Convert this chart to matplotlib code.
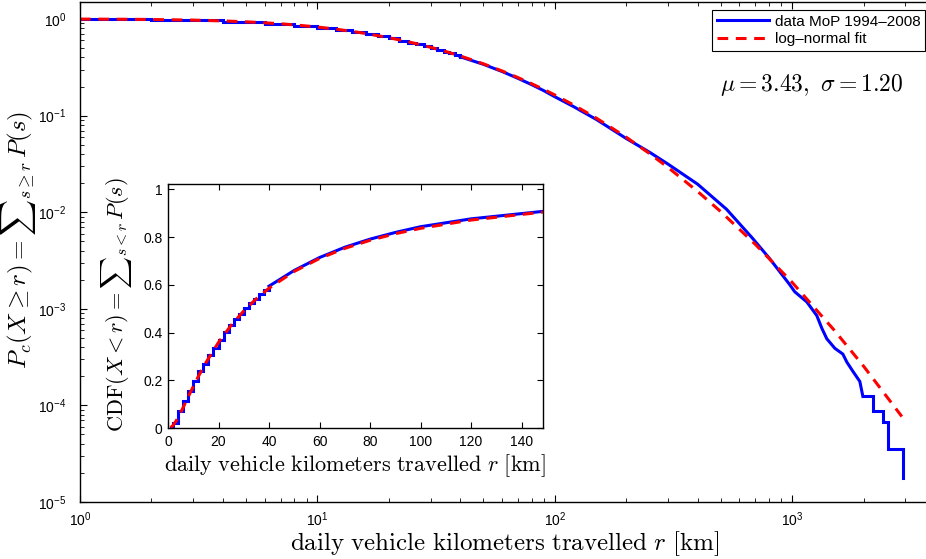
import matplotlib
matplotlib.use("Agg")
import matplotlib.pyplot as plt
import numpy as np
from matplotlib.ticker import LogLocator, FixedLocator, NullFormatter

plt.rcParams['font.family'] = ['Liberation Sans', 'DejaVu Sans']
plt.rcParams['mathtext.fontset'] = 'cm'

# ---- data: empirical complementary CDF P(X >= r) (MoP 1994-2008) ----
# low range: steps at even kilometres
r_step = [1, 2, 4, 6, 8, 10, 12, 14, 16, 18, 20, 22, 24, 26, 28, 30, 32, 34, 36, 38, 40]
ccdf_step = [0.998, 0.980, 0.930, 0.889, 0.843, 0.805, 0.763, 0.731, 0.693, 0.665,
             0.631, 0.597, 0.570, 0.545, 0.521, 0.497, 0.478, 0.458, 0.440, 0.423, 0.406]
# mid range
r_mid = [40, 50, 60, 70, 80, 90, 100, 120, 150, 200, 250, 300, 400, 530, 680, 805,
         977, 1026, 1153, 1271, 1334, 1400, 1514, 1636, 1702, 1802, 1929, 1987]
ccdf_mid = [0.406, 0.340, 0.286, 0.243, 0.209, 0.181, 0.157, 0.124, 0.091, 0.058,
            0.042, 0.0315, 0.0195, 0.0107, 0.0054, 0.0033, 0.00178, 0.0015, 0.00118,
            0.00085, 0.00063, 0.00049, 0.00039, 0.00034, 0.00028, 0.000226, 0.000177,
            0.000124]
# tail: individual observations
r_tail = [1987, 2200, 2420, 2535, 2931]
ccdf_tail = [0.000124, 8.7e-5, 6.8e-5, 3.5e-5, 1.77e-5]

# ---- log-normal fit (mu = 3.43, sigma = 1.20) ----
r_fit = [1, 1.5, 2, 3, 4, 5, 6, 7, 8, 10, 12, 15, 20, 25, 30, 35, 40, 50, 60, 70, 80,
         90, 100, 120, 150, 200, 250, 300, 400, 500, 700, 1000, 1500, 2000, 2900]
ccdf_fit = [0.9979, 0.9941, 0.9887, 0.9740, 0.9557, 0.9354, 0.9139, 0.8920, 0.8698,
            0.8263, 0.7845, 0.7263, 0.6413, 0.5698, 0.5096, 0.4584, 0.4146, 0.3440,
            0.2899, 0.2476, 0.2138, 0.1863, 0.1637, 0.1290, 0.0939, 0.0598, 0.0407,
            0.0291, 0.0164, 0.01016, 0.00465, 0.00188, 0.000606, 0.000255, 7.67e-5]

inset_xticks = [0, 20, 40, 60, 80, 100, 120, 140]
inset_yticks = [0, 0.2, 0.4, 0.6, 0.8, 1]
inset_yticklabels = ['0', '0.2', '0.4', '0.6', '0.8', '1']

legend_labels = ['data MoP 1994\u20132008', 'log\u2013normal fit']

BLUE = (0, 0, 1)
RED = (1, 0, 0)
LW = 2.2
DASH = (3.5, 2.5)

W, H = 926, 559
fig = plt.figure(figsize=(W / 100, H / 100), dpi=100)

# main axes (right part extends slightly past the figure edge)
AX_L, AX_R, AX_T, AX_B = 80, 935, 2, 502
ax = fig.add_axes([AX_L / W, 1 - AX_B / H, (AX_R - AX_L) / W, (AX_B - AX_T) / H])
ax.set_xscale('log')
ax.set_yscale('log')

ax.plot(r_step, ccdf_step, color=BLUE, lw=LW, drawstyle='steps-post', solid_joinstyle='miter')
ax.plot(r_mid, ccdf_mid, color=BLUE, lw=LW)
ax.plot(r_tail, ccdf_tail, color=BLUE, lw=LW, drawstyle='steps-post', solid_joinstyle='miter')
ax.plot(r_fit, ccdf_fit, color=RED, lw=LW, dashes=DASH)

ax.set_xlim(1, 4000)
ax.set_ylim(1e-5, 1.5)
ax.xaxis.set_major_locator(LogLocator(base=10, numticks=10))
ax.xaxis.set_minor_locator(LogLocator(base=10, subs=np.arange(2, 10), numticks=20))
ax.yaxis.set_major_locator(LogLocator(base=10, numticks=10))
ax.yaxis.set_minor_locator(LogLocator(base=10, subs=np.arange(2, 10), numticks=20))
ax.xaxis.set_minor_formatter(NullFormatter())
ax.yaxis.set_minor_formatter(NullFormatter())
ax.tick_params(which='both', direction='in', top=True, right=True, labelsize=10)
ax.tick_params(which='major', length=5, width=0.8)
ax.tick_params(which='minor', length=3, width=0.6)
ax.tick_params(axis='x', which='major', pad=6)
ax.tick_params(axis='y', which='major', pad=10)
for s in ax.spines.values():
    s.set_linewidth(1.0)

AW, AH = AX_R - AX_L, AX_B - AX_T
ax.set_xlabel(r'$\mathrm{daily\ vehicle\ kilometers\ travelled}\ r\ \mathrm{[km]}$', fontsize=18)
ax.xaxis.set_label_coords((505 - AX_L) / AW, -(529 - AX_B) / AH)
ax.set_ylabel(r'$P_c(X \geq r) = \sum{}_{s \geq r}\, P(s)$', fontsize=18)
ax.yaxis.set_label_coords(-(AX_L - 38) / AW, (AX_B - 240) / AH)

h1, = ax.plot([], [], color=BLUE, lw=LW)
h2, = ax.plot([], [], color=RED, lw=LW, dashes=DASH)
leg = ax.legend([h1, h2], legend_labels, loc='upper right',
                bbox_to_anchor=(925 / W, 1 - 10 / H), bbox_transform=fig.transFigure,
                borderaxespad=0, fontsize=11, fancybox=False, framealpha=1,
                edgecolor='black', handlelength=3.4, handletextpad=0.4,
                borderpad=0.3, labelspacing=0.25)
leg.get_frame().set_linewidth(0.8)

fig.text(812 / W, 1 - 85 / H, r'$\mu = 3.43,\ \sigma = 1.20$', fontsize=17,
         ha='center', va='center')

# inset axes
IL, IR, IT, IB = 168, 543, 184, 428
ins = fig.add_axes([IL / W, 1 - IB / H, (IR - IL) / W, (IB - IT) / H])
ins.set_facecolor('white')
cdf_step = [1 - v for v in ccdf_step]
cdf_mid = [1 - v for v in ccdf_mid]
cdf_fit = [1 - v for v in ccdf_fit]
ins.plot(r_step, cdf_step, color=BLUE, lw=LW, drawstyle='steps-post', solid_joinstyle='miter')
ins.plot(r_mid, cdf_mid, color=BLUE, lw=LW)
ins.plot(r_fit, cdf_fit, color=RED, lw=LW, dashes=DASH)
ins.set_xlim(0, 148.5)
ins.set_ylim(0, 1.022)
ins.xaxis.set_major_locator(FixedLocator(inset_xticks))
ins.set_xticklabels([str(t) for t in inset_xticks])
ins.yaxis.set_major_locator(FixedLocator(inset_yticks))
ins.set_yticklabels(inset_yticklabels)
ins.tick_params(which='both', direction='in', top=True, right=True, labelsize=10,
                length=4, width=0.8)
ins.tick_params(axis='x', pad=5)
ins.tick_params(axis='y', pad=4)
for s in ins.spines.values():
    s.set_linewidth(1.0)
IW, IH = IR - IL, IB - IT
ins.set_xlabel(r'$\mathrm{daily\ vehicle\ kilometers\ travelled}\ r\ \mathrm{[km]}$', fontsize=16)
ins.xaxis.set_label_coords((355 - IL) / IW, -(452 - IB) / IH)
ins.set_ylabel(r'$\mathrm{CDF}(X < r) = \sum{}_{s<r}\, P(s)$', fontsize=16)
ins.yaxis.set_label_coords(-(IL - 134) / IW, (IB - 305) / IH)

fig.savefig('out.png', dpi=100)
